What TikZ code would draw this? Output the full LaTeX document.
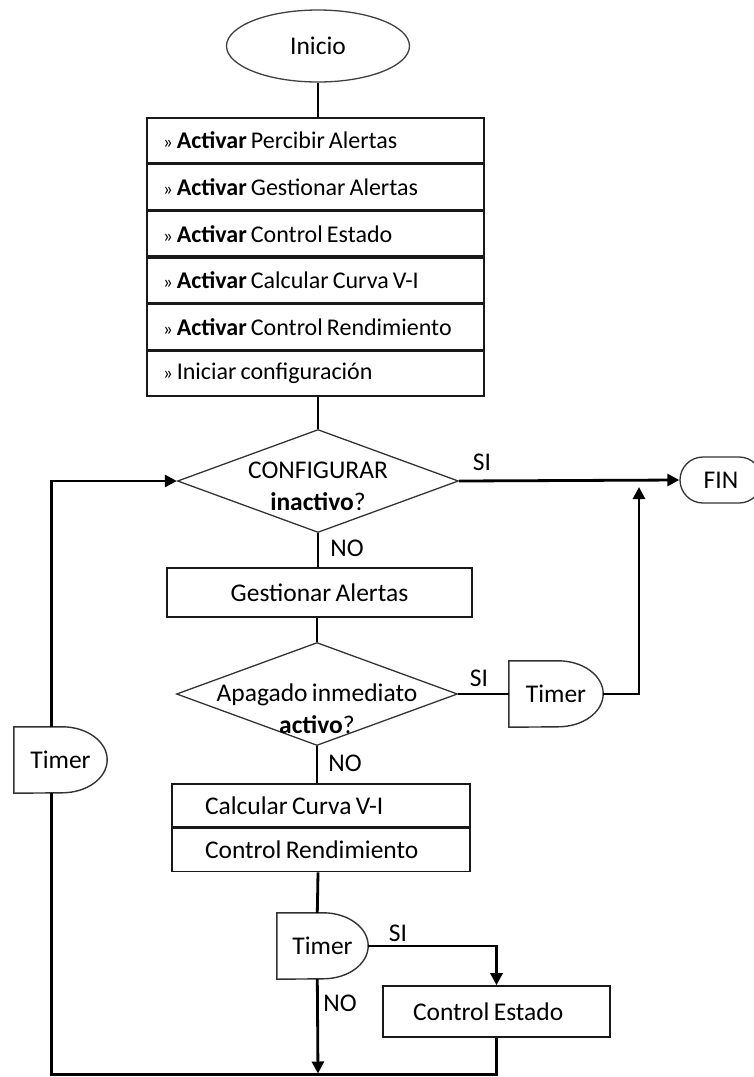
\documentclass[tikz,border=0pt]{standalone}
\usepackage{fontspec}
\setmainfont{Carlito}[WordSpace=0.75]
\usetikzlibrary{positioning, shapes, arrows.meta, calc}

% contorno del bloque Timer (lado recto a la izquierda, curvo a la derecha)
\newcommand{\timershape}[1]{%
  \draw[draw=black!80, line width=1.4pt] (#1.north west) -- ([xshift=-45pt]#1.north east)
    arc[start angle=90, end angle=-90, x radius=45pt, y radius=33pt] -- (#1.south west) -- cycle;}
\newcommand{\marca}{{\fontsize{19}{20}\selectfont»}}

\begin{document}
\begin{tikzpicture}[x=1pt, y=-1pt,
    font=\fontsize{25.5}{32}\selectfont,
    caja/.style={rectangle, draw=black!90, line width=1.6pt, inner sep=0pt},
    fila/.style={caja, minimum width=337pt, minimum height=45pt, inner xsep=16pt,
      text width=305pt, align=flush left, font=\fontsize{24}{28}\selectfont},
    decision/.style={diamond, draw=black!80, line width=1.3pt, inner sep=0pt,
      minimum width=281pt, minimum height=103pt},
    timer/.style={rectangle, inner sep=0pt, minimum height=66pt},
    linea/.style={draw=black, line width=2.8pt},
    flecha/.style={linea, -{Triangle[length=12pt, width=12pt]}}]

  \useasboundingbox (0,0) rectangle (753,1077);

  % inicio y activaciones
  \node[ellipse, draw=black!75, line width=1.3pt, minimum width=183pt, minimum height=72pt] (inicio) at (318,46) {Inicio};
  \node[fila] (r1) at (315.5,140.5) {\marca\ \textbf{Activar} Percibir Alertas};
  \node[fila, below=0pt of r1] (r2) {\marca\ \textbf{Activar} Gestionar Alertas};
  \node[fila, below=0pt of r2] (r3) {\marca\ \textbf{Activar} Control Estado};
  \node[fila, below=0pt of r3] (r4) {\marca\ \textbf{Activar} Calcular Curva V-I};
  \node[fila, below=0pt of r4] (r5) {\marca\ \textbf{Activar} Control Rendimiento};
  \node[fila, below=0pt of r5] (r6) {\marca\ Iniciar configuración};

  % bucle principal
  \node[decision] (cfg) at (318,481) {};
  \node[align=center] (cfgtxt) at (318,486) {CONFIGURAR\\\textbf{inactivo}?};
  \node[rectangle, draw=black!80, line width=1.3pt, rounded corners=23pt,
    minimum width=82pt, minimum height=46pt] (fin) at (721,480) {FIN};
  \node[caja, minimum width=305pt, minimum height=49pt] (gest) at (319.5,592.5) {Gestionar Alertas};
  \node[decision] (apag) at (317,694) {};
  \node[align=center] (apagtxt) at (317,709) {Apagado inmediato\\\textbf{activo}?};
  \node[timer, minimum width=94pt] (tmB) at (556,694) {Timer};
  \timershape{tmB}
  \node[timer, minimum width=93pt] (tmL) at (60.5,760) {Timer};
  \timershape{tmL}
  \node[caja, minimum width=298pt, minimum height=43pt, inner xsep=33pt, text width=232pt, align=flush left] (calc1) at (321,805.5) {Calcular Curva V-I};
  \node[caja, minimum width=298pt, minimum height=43pt, inner xsep=33pt, text width=232pt, align=flush left, below=0pt of calc1] (calc2) {Control Rendimiento};
  \node[timer, minimum width=91pt] (tmC) at (322.5,946) {Timer};
  \timershape{tmC}
  \node[caja, minimum width=227pt, minimum height=51pt, inner xsep=30pt, text width=167pt, align=flush left] (estado) at (496.5,1011.5) {Control Estado};

  % etiquetas SI / NO
  \node (si1) at (482,462) {SI};
  \node (no1) at (347,548) {NO};
  \node (si2) at (479,678) {SI};
  \node (no2) at (345,763) {NO};
  \node (si3) at (398,933) {SI};
  \node (no3) at (340,1003) {NO};

  \coordinate (junta) at (639,487);
  \coordinate (fondo) at (318,1074.5);

  % conectores
  \draw[linea] (inicio.south) -- (inicio.south |- r1.north);
  \draw[linea] (cfg.north |- r6.south) -- (cfg.north);
  \draw[linea] (cfg.south) -- (cfg.south |- gest.north);
  \draw[linea] (apag.north |- gest.south) -- (apag.north);
  \draw[linea] (apag.south) -- (apag.south |- calc1.north);
  \draw[linea] (cfg.south |- calc2.south) -- ([xshift=40.5pt]tmC.north west);
  \draw[flecha] (cfg.east) -- (fin.west);
  \draw[linea] (apag.east) -- (tmB.west);
  \draw[flecha] (tmB.east) -| (junta);
  \draw[flecha] (tmC.east) -| (estado.north);
  \draw[flecha, shorten >=1pt] ([xshift=40.5pt]tmC.south west) -- (fondo);
  \draw[linea] (estado.south) |- (fondo) -| ([xshift=38pt]tmL.south west);
  \draw[flecha] ([xshift=38pt]tmL.north west) |- (cfg.west);
\end{tikzpicture}
\end{document}
